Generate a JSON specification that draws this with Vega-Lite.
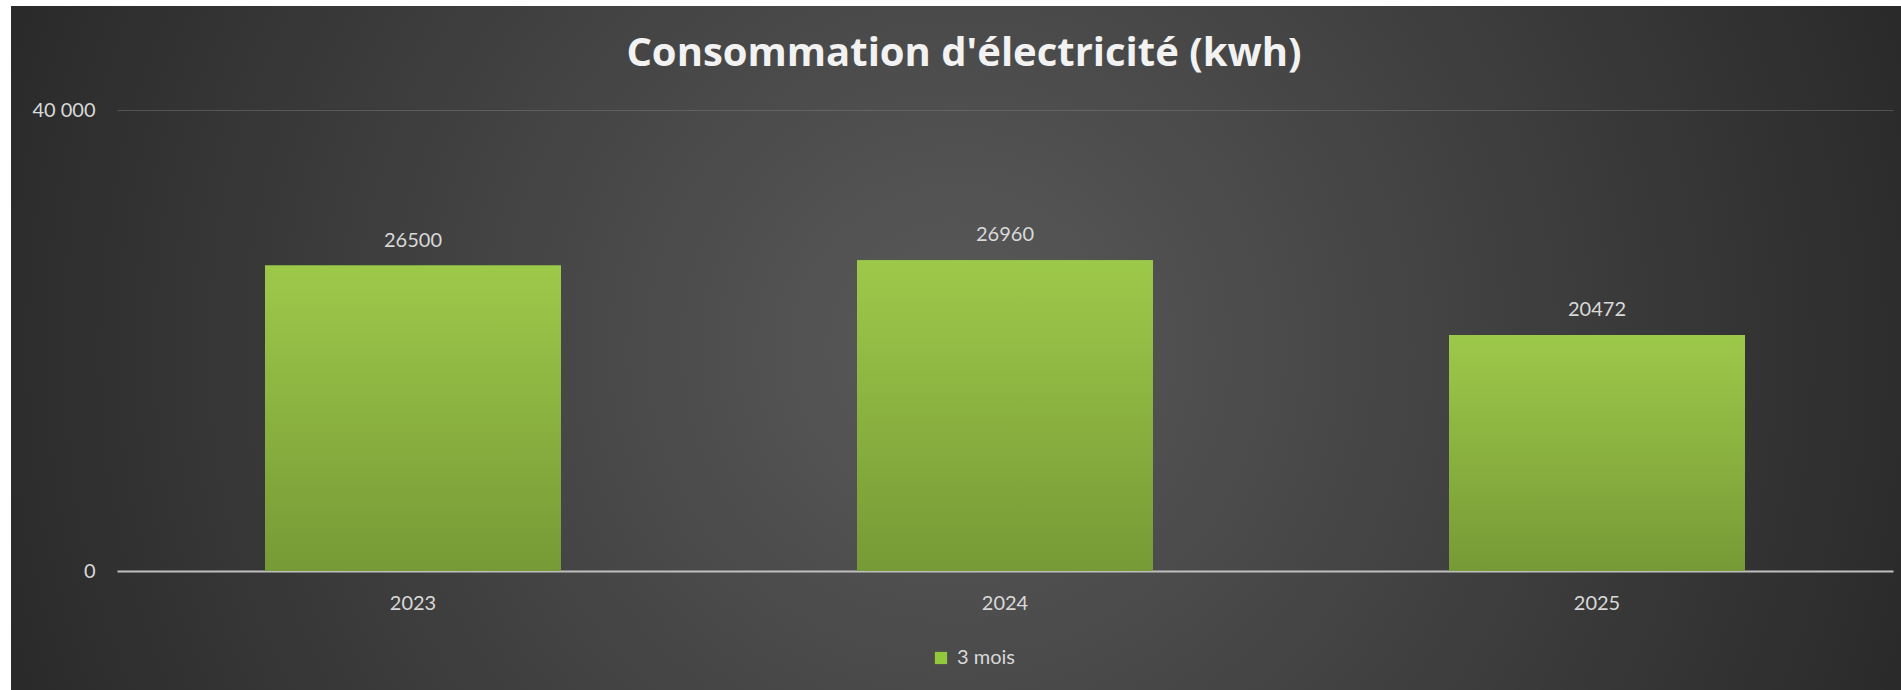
{
  "$schema": "https://vega.github.io/schema/vega-lite/v6.json",
  "width": 1890,
  "height": 684,
  "autosize": "none",
  "padding": {"left": 11, "top": 6, "right": 0, "bottom": 0},
  "background": "#ffffff",
  "title": {
    "text": "Consommation d'électricité (kwh)",
    "font": "Open Sans",
    "fontSize": 40,
    "fontWeight": "bold",
    "color": "#f2f2f2",
    "anchor": "middle",
    "baseline": "alphabetic",
    "offset": -100,
    "dx": 8
  },
  "config": {
    "font": "Lato",
    "view": {
      "stroke": null,
      "fill": {
        "gradient": "radial",
        "x1": 0.5, "y1": 0.5, "r1": 0,
        "x2": 0.5, "y2": 0.5, "r2": 0.55,
        "stops": [
          {"offset": 0, "color": "#5a5a5a"},
          {"offset": 1, "color": "#282828"}
        ]
      }
    }
  },
  "data": {
    "values": [
      {"annee": "2023", "kwh": 26500, "serie": "3 mois"},
      {"annee": "2024", "kwh": 26960, "serie": "3 mois"},
      {"annee": "2025", "kwh": 20472, "serie": "3 mois"}
    ]
  },
  "encoding": {
    "x": {
      "field": "annee",
      "type": "nominal",
      "sort": null,
      "scale": {"range": [106, 1882], "paddingInner": 0.5, "paddingOuter": 0.25},
      "axis": {
        "title": null,
        "orient": "bottom",
        "offset": -119,
        "labelAngle": 0,
        "labelFontSize": 20,
        "labelColor": "#d9d9d9",
        "labelBaseline": "alphabetic",
        "labelPadding": 38,
        "ticks": false,
        "tickSize": 0,
        "domain": true,
        "domainColor": "#bfbfbf",
        "domainWidth": 2,
        "grid": false
      }
    },
    "y": {
      "field": "kwh",
      "type": "quantitative",
      "scale": {"domain": [0, 40000], "range": [565, 104], "nice": false, "zero": true},
      "axis": {
        "title": null,
        "orient": "left",
        "offset": -90,
        "values": [0, 40000],
        "labelExpr": "replace(format(datum.value, ','), ',', '\u202f')",
        "labelFontSize": 20,
        "labelColor": "#d9d9d9",
        "labelPadding": 6,
        "ticks": false,
        "tickSize": 0,
        "domain": false,
        "grid": true,
        "gridColor": "#808080",
        "gridOpacity": 0.45,
        "gridWidth": 1
      }
    }
  },
  "layer": [
    {
      "mark": {"type": "bar"},
      "encoding": {
        "color": {
          "field": "serie",
          "type": "nominal",
          "scale": {"range": ["#92c83c"]},
          "legend": {
            "title": null,
            "orient": "none",
            "legendX": 920,
            "legendY": 642,
            "direction": "horizontal",
            "padding": 0,
            "symbolType": "square",
            "symbolSize": 150,
            "symbolStrokeWidth": 0,
            "labelFontSize": 20,
            "labelColor": "#d9d9d9",
            "labelOffset": 6
          }
        }
      }
    },
    {
      "mark": {
        "type": "bar",
        "fill": {
          "gradient": "linear",
          "x1": 0, "y1": 0, "x2": 0, "y2": 1,
          "stops": [
            {"offset": 0, "color": "#9dc94a"},
            {"offset": 1, "color": "#769a36"}
          ]
        }
      }
    },
    {
      "mark": {
        "type": "text",
        "baseline": "alphabetic",
        "dy": -19,
        "fontSize": 20,
        "color": "#d9d9d9"
      },
      "encoding": {
        "text": {"field": "kwh", "type": "quantitative", "format": "d"}
      }
    }
  ]
}
